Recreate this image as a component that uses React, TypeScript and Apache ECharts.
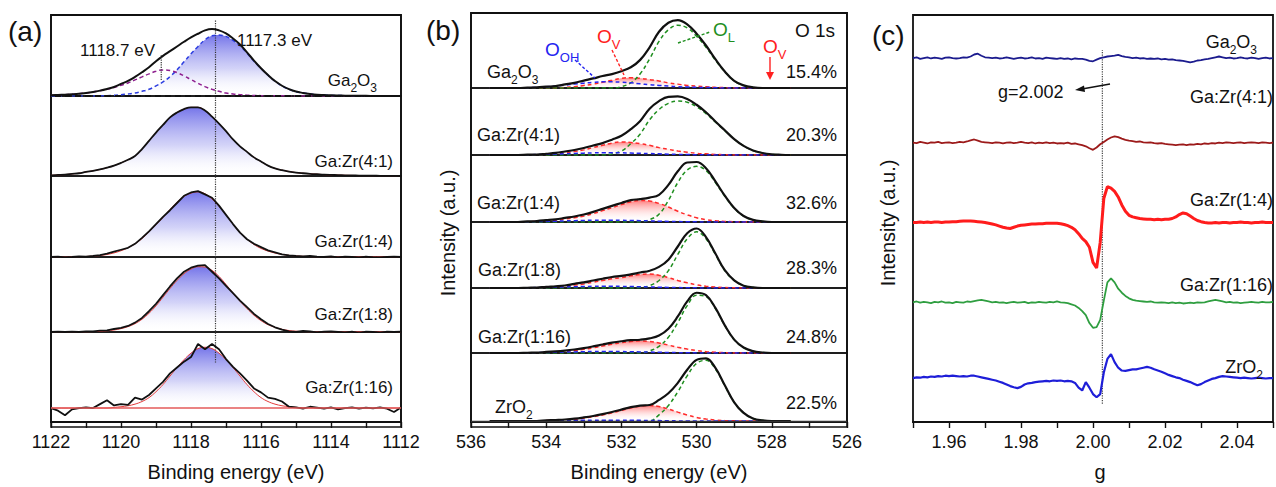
import React, { useEffect, useRef } from 'react';
import * as echarts from 'echarts';

const FONT = '"Liberation Sans", Arial, Helvetica, sans-serif';

// ---------------- Panel (a): Ga 2p3/2 XPS ----------------
const A_E = [
  1122.0, 1121.8, 1121.6, 1121.4, 1121.2, 1121.0, 1120.8, 1120.6, 1120.4, 1120.2,
  1120.0, 1119.8, 1119.6, 1119.4, 1119.2, 1119.0, 1118.8, 1118.6, 1118.4, 1118.2,
  1118.0, 1117.8, 1117.6, 1117.4, 1117.2, 1117.0, 1116.8, 1116.6, 1116.4, 1116.2,
  1116.0, 1115.8, 1115.6, 1115.4, 1115.2, 1115.0, 1114.8, 1114.6, 1114.4, 1114.2,
  1114.0, 1113.8, 1113.6, 1113.4, 1113.2, 1113.0, 1112.8, 1112.6, 1112.4, 1112.2,
  1112.0,
];
const A_GA2O3_TOTAL = [
  0.01, 0.015, 0.02, 0.025, 0.035, 0.045, 0.06, 0.08, 0.105, 0.135,
  0.18, 0.225, 0.285, 0.355, 0.43, 0.52, 0.6, 0.67, 0.74, 0.81,
  0.875, 0.93, 0.98, 1.0, 0.98, 0.935, 0.86, 0.77, 0.653, 0.528,
  0.415, 0.313, 0.223, 0.153, 0.102, 0.066, 0.046, 0.031, 0.02, 0.015,
  0.01, 0.007, 0.005, 0.003, 0.002, 0.002, 0.001, 0, 0, 0,
  0,
];
const A_GA2O3_PEAK_1187 = [
  0.01, 0.015, 0.02, 0.025, 0.035, 0.045, 0.06, 0.08, 0.1, 0.125,
  0.16, 0.195, 0.24, 0.285, 0.33, 0.37, 0.39, 0.38, 0.35, 0.3,
  0.245, 0.19, 0.14, 0.1, 0.07, 0.045, 0.03, 0.02, 0.013, 0.008,
  0.005, 0.003, 0.003, 0.003, 0.002, 0.001, 0.001, 0, 0, 0,
  0, 0, 0, 0, 0, 0, 0, 0, 0, 0,
  0,
];
const A_GA2O3_PEAK_1173 = [
  0, 0, 0, 0, 0, 0, 0, 0, 0.005, 0.01,
  0.02, 0.03, 0.045, 0.07, 0.1, 0.15, 0.21, 0.29, 0.39, 0.51,
  0.63, 0.74, 0.84, 0.9, 0.91, 0.89, 0.83, 0.75, 0.64, 0.52,
  0.41, 0.31, 0.22, 0.15, 0.1, 0.065, 0.045, 0.03, 0.02, 0.015,
  0.01, 0.007, 0.005, 0.003, 0.002, 0.002, 0.001, 0, 0, 0,
  0,
];
const A_41 = [
  0.01, 0.015, 0.02, 0.03, 0.04, 0.06, 0.075, 0.095, 0.12, 0.15,
  0.19, 0.235, 0.29, 0.39, 0.51, 0.63, 0.74, 0.85, 0.92, 0.97,
  0.995, 0.995, 0.95, 0.86, 0.76, 0.65, 0.53, 0.43, 0.35, 0.27,
  0.21, 0.15, 0.11, 0.085, 0.065, 0.05, 0.04, 0.032, 0.026, 0.02,
  0.016, 0.013, 0.01, 0.008, 0.006, 0.005, 0.004, 0.003, 0.002, 0.001,
  0,
];
const A_14_DATA = [
  0, 0.005, -0.005, 0, 0.01, 0.005, 0.015, 0.03, 0.05, 0.08,
  0.11, 0.14, 0.2, 0.29, 0.39, 0.5, 0.61, 0.71, 0.82, 0.93,
  0.98, 1.0, 0.95, 0.9, 0.78, 0.64, 0.5, 0.37, 0.27, 0.2,
  0.15, 0.1, 0.07, 0.04, 0.025, 0.015, 0.01, 0.015, 0.005, 0,
  0.01, -0.005, 0.005, 0, -0.01, 0.005, -0.005, -0.01, 0, 0.005,
  0,
];
const A_14_FIT = [
  0, 0, 0, 0.003, 0.005, 0.008, 0.013, 0.022, 0.038, 0.062,
  0.095, 0.14, 0.2, 0.28, 0.38, 0.49, 0.6, 0.72, 0.83, 0.92,
  0.97, 0.99, 0.96, 0.88, 0.77, 0.64, 0.5, 0.37, 0.27, 0.19,
  0.13, 0.09, 0.06, 0.04, 0.025, 0.016, 0.01, 0.006, 0.004, 0.002,
  0.002, 0.001, 0.001, 0, 0, 0, 0, 0, 0, 0,
  0,
];
const A_18_DATA = [
  0, 0.005, 0, 0.005, 0, 0.01, 0.01, 0.02, 0.025, 0.045,
  0.06, 0.09, 0.14, 0.21, 0.31, 0.42, 0.55, 0.68, 0.8, 0.9,
  0.96, 0.99, 1.0, 0.9, 0.8, 0.69, 0.58, 0.47, 0.37, 0.27,
  0.19, 0.12, 0.07, 0.035, 0.01, 0, 0.015, 0.01, -0.005, 0.005,
  0.01, 0, -0.01, 0.005, -0.02, 0.005, 0, -0.015, 0.005, 0,
  0.005,
];
const A_18_FIT = [
  0, 0, 0, 0, 0, 0.003, 0.006, 0.01, 0.018, 0.03,
  0.05, 0.08, 0.125, 0.19, 0.28, 0.39, 0.52, 0.65, 0.77, 0.87,
  0.94, 0.975, 0.97, 0.92, 0.83, 0.71, 0.58, 0.46, 0.35, 0.25,
  0.17, 0.11, 0.07, 0.04, 0.022, 0.012, 0.006, 0.003, 0.001, 0,
  0, 0, 0, 0, 0, 0, 0, 0, 0, 0,
  0,
];
const A_116_DATA = [
  0, -0.04, -0.11, -0.02, 0, 0.01, 0, 0.06, 0.12, 0.04,
  0.06, 0.05, 0.16, 0.13, 0.2, 0.3, 0.4, 0.53, 0.62, 0.71,
  0.78, 0.98, 0.9, 0.98, 0.9, 0.75, 0.63, 0.53, 0.42, 0.3,
  0.24, 0.16, 0.14, 0.1, 0.02, 0.01, -0.01, 0.02, 0.005, -0.01,
  0.01, -0.02, 0, 0.01, -0.01, 0.005, -0.005, 0.01, -0.01, -0.06,
  0.01,
];
const A_116_FIT = [
  0, 0, 0, 0, 0, 0, 0, 0, 0, 0.01,
  0.02, 0.035, 0.06, 0.1, 0.16, 0.25, 0.36, 0.49, 0.62, 0.74,
  0.84, 0.91, 0.93, 0.91, 0.84, 0.74, 0.62, 0.49, 0.36, 0.25,
  0.16, 0.1, 0.06, 0.035, 0.02, 0.01, 0.005, 0, 0, 0,
  0, 0, 0, 0, 0, 0, 0, 0, 0, 0,
  0,
];
const A_REF_E = 1117.3;
const A_SHOULDER_E = 1118.85;

// ---------------- Panel (b): O 1s XPS ----------------
const B_E = [
  535.5, 535.25, 535.0, 534.75, 534.5, 534.25, 534.0, 533.75, 533.5, 533.25,
  533.0, 532.75, 532.5, 532.25, 532.0, 531.75, 531.5, 531.25, 531.0, 530.75,
  530.5, 530.25, 530.0, 529.75, 529.5, 529.25, 529.0, 528.75, 528.5, 528.25,
  528.0, 527.75, 527.5,
];
const B_GA2O3_TOTAL = [0, 0, 0, 0, 0.005, 0.01, 0.02, 0.03, 0.055, 0.08, 0.115, 0.148, 0.185, 0.215, 0.26, 0.32, 0.435, 0.63, 0.87, 1.01, 1.05, 0.985, 0.84, 0.657, 0.445, 0.255, 0.11, 0.04, 0.01, 0, 0, 0, 0];
const B_GA2O3_OL = [0, 0, 0, 0, 0, 0, 0, 0, 0, 0, 0, 0, 0, 0, 0.02, 0.08, 0.22, 0.45, 0.72, 0.9, 0.97, 0.93, 0.8, 0.63, 0.43, 0.25, 0.11, 0.04, 0.01, 0, 0, 0, 0];
const B_GA2O3_OV = [0, 0, 0, 0, 0, 0, 0, 0, 0.01, 0.02, 0.04, 0.06, 0.09, 0.12, 0.15, 0.16, 0.15, 0.13, 0.11, 0.08, 0.06, 0.04, 0.03, 0.02, 0.01, 0.005, 0, 0, 0, 0, 0, 0, 0];
const B_GA2O3_OOH = [0, 0, 0, 0, 0.005, 0.01, 0.02, 0.03, 0.045, 0.06, 0.075, 0.088, 0.095, 0.095, 0.09, 0.08, 0.065, 0.05, 0.04, 0.03, 0.02, 0.015, 0.01, 0.007, 0.005, 0, 0, 0, 0, 0, 0, 0, 0];

const B_41_TOTAL = [0, 0, 0, 0, 0.005, 0.008, 0.022, 0.037, 0.062, 0.088, 0.123, 0.167, 0.21, 0.27, 0.338, 0.454, 0.6, 0.815, 0.95, 1.025, 1.031, 0.988, 0.885, 0.753, 0.59, 0.435, 0.28, 0.16, 0.08, 0.035, 0.012, 0.004, 0];
const B_41_OL = [0, 0, 0, 0, 0, 0, 0, 0, 0, 0, 0, 0, 0, 0.02, 0.07, 0.2, 0.37, 0.62, 0.8, 0.91, 0.95, 0.93, 0.85, 0.73, 0.58, 0.43, 0.28, 0.16, 0.08, 0.035, 0.012, 0.004, 0];
const B_41_OV = [0, 0, 0, 0, 0, 0, 0.01, 0.02, 0.04, 0.06, 0.09, 0.13, 0.17, 0.21, 0.23, 0.22, 0.2, 0.17, 0.13, 0.1, 0.07, 0.05, 0.03, 0.02, 0.01, 0.005, 0, 0, 0, 0, 0, 0, 0];
const B_41_OOH = [0, 0, 0, 0, 0.005, 0.008, 0.012, 0.017, 0.022, 0.028, 0.033, 0.037, 0.04, 0.04, 0.038, 0.034, 0.03, 0.025, 0.02, 0.015, 0.011, 0.008, 0.005, 0.003, 0, 0, 0, 0, 0, 0, 0, 0, 0];

const B_14_TOTAL = [0, 0, 0, 0, 0.009, 0.017, 0.03, 0.044, 0.068, 0.092, 0.126, 0.169, 0.22, 0.27, 0.318, 0.365, 0.382, 0.408, 0.454, 0.62, 0.847, 0.995, 1.003, 0.9, 0.68, 0.44, 0.235, 0.1, 0.035, 0.01, 0, 0, 0];
const B_14_OL = [0, 0, 0, 0, 0, 0, 0, 0, 0, 0, 0, 0, 0, 0, 0, 0, 0, 0.04, 0.13, 0.36, 0.66, 0.87, 0.93, 0.86, 0.66, 0.43, 0.23, 0.1, 0.035, 0.01, 0, 0, 0];
const B_14_OV = [0, 0, 0, 0, 0.005, 0.01, 0.02, 0.03, 0.05, 0.07, 0.1, 0.14, 0.19, 0.24, 0.29, 0.34, 0.36, 0.35, 0.31, 0.25, 0.18, 0.12, 0.07, 0.04, 0.02, 0.01, 0.005, 0, 0, 0, 0, 0, 0];
const B_14_OOH = [0, 0, 0, 0, 0.004, 0.007, 0.01, 0.014, 0.018, 0.022, 0.026, 0.029, 0.03, 0.03, 0.028, 0.025, 0.022, 0.018, 0.014, 0.01, 0.007, 0.005, 0.003, 0, 0, 0, 0, 0, 0, 0, 0, 0, 0];

const B_18_TOTAL = [0, 0, 0, 0, 0.004, 0.007, 0.02, 0.029, 0.043, 0.072, 0.096, 0.129, 0.16, 0.19, 0.208, 0.235, 0.267, 0.298, 0.364, 0.49, 0.717, 0.945, 1.028, 0.88, 0.595, 0.307, 0.133, 0.04, 0.01, 0, 0, 0, 0];
const B_18_OL = [0, 0, 0, 0, 0, 0, 0, 0, 0, 0, 0, 0, 0, 0, 0, 0, 0.01, 0.04, 0.13, 0.3, 0.58, 0.85, 0.97, 0.85, 0.58, 0.3, 0.13, 0.04, 0.01, 0, 0, 0, 0];
const B_18_OV = [0, 0, 0, 0, 0, 0, 0.01, 0.015, 0.025, 0.05, 0.07, 0.1, 0.13, 0.16, 0.18, 0.21, 0.235, 0.24, 0.22, 0.18, 0.13, 0.09, 0.055, 0.03, 0.015, 0.007, 0.003, 0, 0, 0, 0, 0, 0];
const B_18_OOH = [0, 0, 0, 0, 0.004, 0.007, 0.01, 0.014, 0.018, 0.022, 0.026, 0.029, 0.03, 0.03, 0.028, 0.025, 0.022, 0.018, 0.014, 0.01, 0.007, 0.005, 0.003, 0, 0, 0, 0, 0, 0, 0, 0, 0, 0];

const B_116_TOTAL = [0, 0, 0, 0, 0.004, 0.006, 0.019, 0.027, 0.04, 0.058, 0.081, 0.109, 0.14, 0.17, 0.193, 0.211, 0.218, 0.24, 0.287, 0.399, 0.601, 0.849, 0.992, 0.952, 0.742, 0.455, 0.22, 0.09, 0.03, 0.008, 0, 0, 0];
const B_116_OL = [0, 0, 0, 0, 0, 0, 0, 0, 0, 0, 0, 0, 0, 0, 0, 0, 0, 0.035, 0.11, 0.26, 0.5, 0.78, 0.95, 0.93, 0.73, 0.45, 0.22, 0.09, 0.03, 0.008, 0, 0, 0];
const B_116_OV = [0, 0, 0, 0, 0, 0, 0.01, 0.015, 0.025, 0.04, 0.06, 0.085, 0.115, 0.145, 0.17, 0.19, 0.2, 0.19, 0.165, 0.13, 0.095, 0.065, 0.04, 0.022, 0.012, 0.005, 0, 0, 0, 0, 0, 0, 0];
const B_116_OOH = [0, 0, 0, 0, 0.004, 0.006, 0.009, 0.012, 0.015, 0.018, 0.021, 0.024, 0.025, 0.025, 0.023, 0.021, 0.018, 0.015, 0.012, 0.009, 0.006, 0.004, 0.002, 0, 0, 0, 0, 0, 0, 0, 0, 0, 0];

const B_ZRO2_TOTAL = [0, 0, 0, 0, 0, 0, 0.009, 0.016, 0.024, 0.037, 0.057, 0.081, 0.111, 0.145, 0.184, 0.223, 0.249, 0.258, 0.34, 0.448, 0.615, 0.827, 0.987, 1.012, 0.856, 0.577, 0.302, 0.13, 0.04, 0.01, 0, 0, 0];
const B_ZRO2_OL = [0, 0, 0, 0, 0, 0, 0, 0, 0, 0, 0, 0, 0, 0, 0, 0, 0, 0, 0.1, 0.25, 0.47, 0.73, 0.93, 0.98, 0.84, 0.57, 0.3, 0.13, 0.04, 0.01, 0, 0, 0];
const B_ZRO2_OV = [0, 0, 0, 0, 0, 0, 0.006, 0.011, 0.017, 0.028, 0.046, 0.068, 0.097, 0.131, 0.171, 0.211, 0.239, 0.25, 0.234, 0.194, 0.143, 0.097, 0.057, 0.032, 0.016, 0.007, 0.002, 0, 0, 0, 0, 0, 0];
const B_ZRO2_OOH = [0, 0, 0, 0, 0, 0, 0.003, 0.005, 0.007, 0.009, 0.011, 0.013, 0.014, 0.014, 0.013, 0.012, 0.01, 0.008, 0.006, 0.004, 0.002, 0, 0, 0, 0, 0, 0, 0, 0, 0, 0, 0, 0];

const B_OV_PERCENT = ['15.4%', '20.3%', '32.6%', '28.3%', '24.8%', '22.5%'];

// ---------------- Panel (c): EPR ----------------
const C_G = [
  1.95, 1.951, 1.952, 1.953, 1.954, 1.955, 1.956, 1.957, 1.958, 1.959,
  1.96, 1.961, 1.962, 1.963, 1.964, 1.965, 1.966, 1.967, 1.968, 1.969,
  1.97, 1.971, 1.972, 1.973, 1.974, 1.975, 1.976, 1.977, 1.978, 1.979,
  1.98, 1.981, 1.982, 1.983, 1.984, 1.985, 1.986, 1.987, 1.988, 1.989,
  1.99, 1.991, 1.992, 1.993, 1.994, 1.995, 1.996, 1.997, 1.998, 1.999,
  2.0, 2.001, 2.002, 2.003, 2.004, 2.005, 2.006, 2.007, 2.008, 2.009,
  2.01, 2.011, 2.012, 2.013, 2.014, 2.015, 2.016, 2.017, 2.018, 2.019,
  2.02, 2.021, 2.022, 2.023, 2.024, 2.025, 2.026, 2.027, 2.028, 2.029,
  2.03, 2.031, 2.032, 2.033, 2.034, 2.035, 2.036, 2.037, 2.038, 2.039,
  2.04, 2.041, 2.042, 2.043, 2.044, 2.045, 2.046, 2.047, 2.048, 2.049,
  2.05,
];
const C_GA2O3 = [
  0, 0.01, -0.01, 0, 0.01, -0.005, 0.005, 0, -0.01, 0.005,
  0.01, 0, -0.005, 0, 0.01, 0.005, 0.02, 0.045, 0.055, 0.03,
  0.01, 0.005, 0, 0.005, -0.005, 0, 0.01, 0, -0.01, 0,
  0.005, -0.005, 0, 0.01, -0.005, 0, -0.01, 0.005, 0, -0.005,
  -0.01, 0, -0.01, -0.005, -0.015, -0.005, -0.01, -0.01, -0.02, -0.035,
  -0.04, -0.02, 0, 0.01, 0.02, 0.025, 0.03, 0.04, 0.025, 0.015,
  0.01, 0, 0.005, -0.005, 0, -0.01, -0.005, -0.01, -0.005, -0.015,
  -0.01, -0.02, -0.015, -0.025, -0.03, -0.035, -0.045, -0.055, -0.045, -0.03,
  -0.025, -0.015, -0.01, 0, 0.01, 0.02, 0.01, 0, 0.005, -0.005,
  0, 0.01, 0, -0.005, 0.005, 0, -0.01, 0, 0.005, -0.005,
  0,
];
const C_41 = [
  0, -0.005, 0.01, 0, -0.01, 0.005, 0, 0.01, -0.005, 0,
  0.005, -0.005, 0, 0.01, 0.005, 0.015, 0.03, 0.04, 0.025, 0.01,
  0.005, 0, -0.005, 0.005, 0, -0.01, 0, 0.005, -0.005, 0,
  0.01, 0, -0.005, 0.005, -0.01, 0, -0.005, 0.005, -0.005, 0,
  -0.01, -0.005, -0.01, 0, -0.015, -0.01, -0.02, -0.03, -0.045, -0.07,
  -0.09, -0.06, -0.02, 0.01, 0.04, 0.065, 0.08, 0.07, 0.05, 0.035,
  0.025, 0.02, 0.01, 0.015, 0.005, 0, 0.005, -0.005, -0.01, -0.005,
  -0.015, -0.02, -0.025, -0.03, -0.025, -0.02, -0.03, -0.02, -0.025, -0.015,
  -0.02, -0.01, -0.015, -0.005, -0.01, 0, -0.005, 0.005, 0, -0.005,
  0, 0.005, -0.005, 0, 0.005, 0, -0.005, 0.005, 0, -0.005,
  0,
];
const C_14 = [
  0, 0, 0.005, 0, 0.005, 0, 0.005, 0.005, 0, 0.005,
  0.005, 0.01, 0.01, 0.015, 0.02, 0.02, 0.02, 0.015, 0.01, 0.005,
  0, -0.01, -0.02, -0.03, -0.045, -0.06, -0.07, -0.075, -0.06, -0.045,
  -0.035, -0.03, -0.025, -0.02, -0.02, -0.015, -0.015, -0.01, -0.01, -0.01,
  -0.01, -0.015, -0.025, -0.04, -0.06, -0.09, -0.14, -0.2, -0.24, -0.31,
  -0.5, -0.57, -0.25, 0.3, 0.45, 0.43, 0.39, 0.32, 0.22, 0.14,
  0.09, 0.07, 0.06, 0.05, 0.045, 0.04, 0.04, 0.035, 0.04, 0.035,
  0.04, 0.04, 0.05, 0.07, 0.1, 0.12, 0.11, 0.08, 0.05, 0.025,
  0.01, 0, -0.005, -0.005, 0, -0.005, 0, 0, -0.005, 0,
  0, 0.005, 0, 0, -0.005, 0, 0, 0.005, 0, 0,
  0,
];
const C_116 = [
  0, 0.01, -0.005, 0.005, 0, -0.01, 0.005, 0, 0.01, -0.005,
  0, -0.01, 0.005, 0, -0.005, 0.01, 0.005, 0.015, 0.025, 0.03,
  0.02, 0.01, 0, 0.005, -0.005, 0, -0.01, 0, 0.005, -0.005,
  0, 0.005, -0.01, 0, -0.005, 0.005, 0, -0.005, 0.005, 0,
  0.01, 0, -0.005, -0.01, -0.025, -0.04, -0.07, -0.11, -0.16, -0.26,
  -0.32, -0.31, -0.22, 0.02, 0.25, 0.3, 0.25, 0.17, 0.12, 0.08,
  0.05, 0.03, 0.02, 0.015, 0.01, 0.005, 0.01, 0, -0.005, 0,
  -0.005, -0.01, 0, -0.01, -0.005, -0.015, -0.01, -0.005, -0.01, 0,
  -0.005, 0, 0.01, 0.02, 0.03, 0.02, 0.01, 0, 0.005, -0.005,
  0, -0.01, -0.005, 0, 0.005, 0, -0.005, 0.005, 0, 0,
  0.005,
];
const C_ZRO2 = [
  0, 0.01, 0.005, 0.015, 0.01, 0.02, 0.015, 0.025, 0.02, 0.03,
  0.025, 0.03, 0.025, 0.02, 0.025, 0.02, 0.03, 0.03, 0.02, 0.01,
  0, -0.01, -0.02, -0.03, -0.045, -0.06, -0.08, -0.1, -0.115, -0.125,
  -0.11, -0.08, -0.065, -0.06, -0.05, -0.045, -0.04, -0.035, -0.04, -0.03,
  -0.035, -0.03, -0.04, -0.035, -0.04, -0.06, -0.12, -0.155, -0.05, -0.12,
  -0.2, -0.24, -0.2, 0.07, 0.24, 0.3, 0.2, 0.13, 0.095, 0.09,
  0.1, 0.11, 0.11, 0.12, 0.13, 0.14, 0.13, 0.11, 0.095, 0.08,
  0.06, 0.04, 0.025, 0.01, 0, -0.02, -0.035, -0.05, -0.07, -0.09,
  -0.075, -0.05, -0.03, -0.01, 0, 0.015, 0.025, 0.02, 0.015, 0.01,
  0.005, 0, 0.005, 0, -0.005, 0, 0.005, 0, -0.005, 0,
  0,
];
const C_OFFSETS = [4.56, 3.5, 2.5, 1.5, 0.55];
const C_REF_G = 2.0026;

// ---------------- layout & style (not data) ----------------
const A_FRAME = { left: 51, top: 15, width: 350, height: 412 };
const A_ROWS = [[15, 81], [96, 80], [176, 81], [257, 75], [332, 95]];
const A_YR = [[0, 1.21], [0, 1.16], [0, 1.23], [0, 1.12], [-0.29, 1.164]];
const B_FRAME = { left: 471, top: 13, width: 376, height: 414 };
const B_ROWS = [[13, 75], [88, 67], [155, 67], [222, 66], [288, 65], [353, 74]];
const B_YR = [[0, 1.16], [0, 1.18], [0, 1.12], [0, 1.14], [0, 1.07], [-0.097, 1.098]];
const C_FRAME = { left: 913, top: 15, width: 374, height: 408 };
const C_COLORS = ['#1b1b8e', '#9c1a1a', '#ff1c1c', '#2f9e40', '#1e1ed8'];
const C_WIDTHS = [1.8, 1.8, 3, 1.8, 2.2];

const pairs = (xs: number[], ys: number[], off = 0) => xs.map((x, i) => [x, ys[i] + off]);

function buildOption() {
  const grid: any[] = [];
  const xAxis: any[] = [];
  const yAxis: any[] = [];
  const series: any[] = [];

  const addGrid = (g: any, xa: any, ya: any) => {
    grid.push(g);
    const gi = grid.length - 1;
    xAxis.push({ ...xa, gridIndex: gi });
    yAxis.push({ ...ya, gridIndex: gi });
    return gi;
  };
  const line = (gi: number, data: any[], style: any, extra: any = {}) => {
    series.push({
      type: 'line', xAxisIndex: gi, yAxisIndex: gi, data, symbol: 'none', showSymbol: false,
      silent: true, animation: false, lineStyle: style, ...extra,
    });
  };
  const baseMark = (color: string, width: number, type: any) => ({
    silent: true, symbol: 'none', label: { show: false }, animation: false,
    data: [{ yAxis: 0 }], lineStyle: { color, width, type },
  });

  const frameGrid = (f: any) => ({ ...f, show: true, borderColor: '#111', borderWidth: 1.8, backgroundColor: 'rgba(0,0,0,0)' });
  const hiddenX = (min: number, max: number, inverse: boolean) => ({ type: 'value', min, max, inverse, show: false });
  const mainX = (min: number, max: number, inverse: boolean, interval: number, fmt: any, name: string, namePad: number[] = [0, 0, 0, 0]) => ({
    type: 'value', min, max, inverse, interval,
    axisLine: { show: true, onZero: false, lineStyle: { color: '#111', width: 1.8 } },
    axisTick: { show: true, inside: false, length: 6, lineStyle: { color: '#111', width: 1.4 } },
    axisLabel: { show: true, formatter: fmt, fontSize: 18, fontFamily: FONT, color: '#111', margin: 11, showMinLabel: true, showMaxLabel: true, hideOverlap: false },
    splitLine: { show: false },
    name, nameLocation: 'middle', nameGap: 40,
    nameTextStyle: { fontSize: 20, fontFamily: FONT, color: '#111', padding: namePad },
  });
  const evenFmt = (v: number) => (Math.round(v) % 2 === 0 ? String(Math.round(v)) : '');

  const blueGrad = new echarts.graphic.LinearGradient(0, 0, 0, 1, [
    { offset: 0, color: 'rgba(48,48,222,0.95)' },
    { offset: 0.55, color: 'rgba(150,150,238,0.6)' },
    { offset: 1, color: 'rgba(255,255,255,0)' },
  ]);
  const redGrad = new echarts.graphic.LinearGradient(0, 0, 0, 1, [
    { offset: 0, color: 'rgba(255,40,40,0.85)' },
    { offset: 1, color: 'rgba(255,255,255,0)' },
  ]);

  // ---- Panel (a)
  const a0 = addGrid(frameGrid(A_FRAME), mainX(1112, 1122, true, 1, evenFmt, 'Binding energy (eV)', [0, 0, 0, 20]), { type: 'value', min: 0, max: 1, show: false });
  line(a0, [[A_REF_E, 0.146], [A_REF_E, 0.988]], { color: '#333', width: 1.2, type: 'dotted' });
  const aGi = A_ROWS.map((r, i) =>
    addGrid(
      { left: A_FRAME.left, width: A_FRAME.width, top: r[0], height: r[1], show: true, borderColor: '#111', borderWidth: 1.5, backgroundColor: 'rgba(0,0,0,0)' },
      hiddenX(1112, 1122, true),
      { type: 'value', min: A_YR[i][0], max: A_YR[i][1], show: false },
    ),
  );
  line(aGi[0], pairs(A_E, A_GA2O3_PEAK_1173), { color: '#2b3de0', width: 1.5, type: [4, 3] }, { smooth: 0.4, areaStyle: { color: blueGrad } });
  line(aGi[0], pairs(A_E, A_GA2O3_PEAK_1187), { color: '#8e1e8e', width: 1.5, type: [4, 3] }, { smooth: 0.4 });
  line(aGi[0], pairs(A_E, A_GA2O3_TOTAL), { color: '#111', width: 2 }, { smooth: 0.4, markLine: baseMark('#111', 2.2, [6, 4]) });
  line(aGi[0], [[A_SHOULDER_E, 0.24], [A_SHOULDER_E, 0.61]], { color: '#333', width: 1.2, type: 'dotted' });
  const aFits = [A_41, A_14_FIT, A_18_FIT, A_116_FIT];
  const aData = [A_41, A_14_DATA, A_18_DATA, A_116_DATA];
  for (let i = 0; i < 4; i++) {
    const gi = aGi[i + 1];
    line(gi, pairs(A_E, aFits[i]), { color: '#e23a3a', width: 1 }, { smooth: 0.4, areaStyle: { color: blueGrad } });
    const extra: any = { smooth: i === 0 ? 0.4 : false };
    if (i === 3) extra.markLine = baseMark('#e35a5a', 1.6, 'solid');
    line(gi, pairs(A_E, aData[i]), { color: '#111', width: 1.8 }, extra);
  }

  // ---- Panel (b)
  addGrid(frameGrid(B_FRAME), mainX(526, 536, true, 1, evenFmt, 'Binding energy (eV)'), { type: 'value', min: 0, max: 1, show: false });
  const bSets = [
    [B_GA2O3_TOTAL, B_GA2O3_OL, B_GA2O3_OV, B_GA2O3_OOH],
    [B_41_TOTAL, B_41_OL, B_41_OV, B_41_OOH],
    [B_14_TOTAL, B_14_OL, B_14_OV, B_14_OOH],
    [B_18_TOTAL, B_18_OL, B_18_OV, B_18_OOH],
    [B_116_TOTAL, B_116_OL, B_116_OV, B_116_OOH],
    [B_ZRO2_TOTAL, B_ZRO2_OL, B_ZRO2_OV, B_ZRO2_OOH],
  ];
  B_ROWS.forEach((r, i) => {
    const gi = addGrid(
      { left: B_FRAME.left, width: B_FRAME.width, top: r[0], height: r[1], show: true, borderColor: '#111', borderWidth: 1.5, backgroundColor: 'rgba(0,0,0,0)' },
      hiddenX(526, 536, true),
      { type: 'value', min: B_YR[i][0], max: B_YR[i][1], show: false },
    );
    const [tot, ol, ov, ooh] = bSets[i];
    line(gi, pairs(B_E, ov), { color: '#ff2a2a', width: 1.5, type: [4, 3] }, { smooth: 0.4, areaStyle: { color: redGrad } });
    line(gi, pairs(B_E, ol), { color: '#1f8f1f', width: 1.5, type: [4, 3] }, { smooth: 0.4 });
    line(gi, pairs(B_E, ooh), { color: '#2424f0', width: 1.5, type: [4, 3] }, { smooth: 0.4 });
    const extra: any = { smooth: 0.4 };
    if (i === 5) extra.markLine = baseMark('#333', 1.3, 'solid');
    line(gi, pairs(B_E, tot), { color: '#111', width: 2.2 }, extra);
  });

  // ---- Panel (c)
  const cFmt = (v: number) => {
    const k = Math.round(v * 100);
    return k % 2 === 0 ? (k / 100).toFixed(2) : '';
  };
  const c0 = addGrid(frameGrid(C_FRAME), mainX(1.95, 2.05, false, 0.01, cFmt, 'g', [0, 0, 0, 14]), { type: 'value', min: 0, max: 5.1, show: false });
  line(c0, [[C_REF_G, 0.23], [C_REF_G, 4.66]], { color: '#444', width: 1.2, type: 'dotted' });
  [C_GA2O3, C_41, C_14, C_116, C_ZRO2].forEach((vals, i) => {
    line(c0, pairs(C_G, vals, C_OFFSETS[i]), { color: C_COLORS[i], width: C_WIDTHS[i] }, { smooth: false });
  });

  // ---- texts & annotations
  const T = (x: number, y: number, text: string, size: number, align = 'left', fill = '#111', extra: any = {}) => ({
    type: 'text', x, y, z: 100, silent: true,
    style: { text, fontSize: size, fontFamily: FONT, fill, align, verticalAlign: 'middle' },
    ...extra,
  });
  const R = (x: number, y: number, text: string, size: number, align = 'left', fill = '#111') => ({
    type: 'text', x, y: y + 2.5, z: 100, silent: true,
    style: {
      text, fontSize: size, fontFamily: FONT, fill, align, verticalAlign: 'middle',
      rich: {
        n: { fontSize: size, fontFamily: FONT, fill, lineHeight: size + 1, verticalAlign: 'top' },
        s: { fontSize: Math.round(size * 0.68), fontFamily: FONT, fill, lineHeight: size + 5, verticalAlign: 'bottom' },
      },
    },
  });
  const L = (x1: number, y1: number, x2: number, y2: number, stroke: string, dash: any = null, w = 1.4) => ({
    type: 'line', z: 100, silent: true, shape: { x1, y1, x2, y2 }, style: { stroke, lineWidth: w, lineDash: dash },
  });
  const P = (pts: number[][], fill: string) => ({ type: 'polygon', z: 100, silent: true, shape: { points: pts }, style: { fill } });

  const graphic: any[] = [
    T(8, 31, '(a)', 28), T(426, 30, '(b)', 28), T(872, 35, '(c)', 28),
    // (a)
    T(80, 50, '1118.7 eV', 17), T(237, 40, '1117.3 eV', 17),
    R(377, 80, '{n|Ga}{s|2}{n|O}{s|3}', 17, 'right'),
    T(393, 161, 'Ga:Zr(4:1)', 17, 'right'),
    T(393, 241, 'Ga:Zr(1:4)', 17, 'right'),
    T(393, 314, 'Ga:Zr(1:8)', 17, 'right'),
    T(393, 387, 'Ga:Zr(1:16)', 17, 'right'),
    // (b)
    T(448, 233, 'Intensity (a.u.)', 20, 'center', '#111', { rotation: Math.PI / 2 }),
    R(487, 72, '{n|Ga}{s|2}{n|O}{s|3}', 18),
    T(477, 135, 'Ga:Zr(4:1)', 18), T(477, 203, 'Ga:Zr(1:4)', 18), T(478, 270, 'Ga:Zr(1:8)', 18),
    T(478, 337, 'Ga:Zr(1:16)', 18), R(495, 407, '{n|ZrO}{s|2}', 18),
    ...B_OV_PERCENT.map((p, i) => T(837, [72, 135, 203, 268, 337, 403][i], p, 18, 'right')),
    T(835, 30, 'O 1s', 19, 'right'),
    R(545, 49, '{n|O}{s|OH}', 19, 'left', '#2424f0'),
    R(597, 36, '{n|O}{s|V}', 19, 'left', '#ff2020'),
    R(713, 29, '{n|O}{s|L}', 19, 'left', '#1f8f1f'),
    R(763, 46, '{n|O}{s|V}', 19, 'left', '#ff2020'),
    L(575, 60, 595, 78, '#2424f0', [3, 2]),
    L(612, 50, 624, 75, '#ff2020', [3, 2]),
    L(678, 43, 710, 32, '#1f8f1f', [3, 2]),
    L(770, 57, 770, 73, '#ff2020', null, 1.4),
    P([[766, 72], [774, 72], [770, 80]], '#ff2020'),
    // (c)
    T(888, 223, 'Intensity (a.u.)', 20, 'center', '#111', { rotation: Math.PI / 2 }),
    R(1257, 42, '{n|Ga}{s|2}{n|O}{s|3}', 18, 'right'),
    T(1273, 97, 'Ga:Zr(4:1)', 18, 'right'),
    T(1273, 200, 'Ga:Zr(1:4)', 18, 'right'),
    T(1273, 285, 'Ga:Zr(1:16)', 18, 'right'),
    R(1263, 367, '{n|ZrO}{s|2}', 18, 'right'),
    T(998, 92, 'g=2.002', 18),
    L(1110, 84, 1082, 89, '#111', null, 1.4),
    P([[1075, 90], [1084, 85.5], [1085, 92]], '#111'),
  ];

  return {
    animation: false,
    backgroundColor: '#fff',
    grid, xAxis, yAxis, series, graphic,
  };
}

export default function App() {
  const ref = useRef<HTMLDivElement>(null);
  useEffect(() => {
    if (!ref.current) return;
    const chart = echarts.init(ref.current, undefined, { renderer: 'svg' });
    chart.setOption(buildOption() as any);
    return () => chart.dispose();
  }, []);
  return <div ref={ref} style={{ position: 'absolute', left: 0, top: 0, width: 1276, height: 487, background: '#fff' }} />;
}
